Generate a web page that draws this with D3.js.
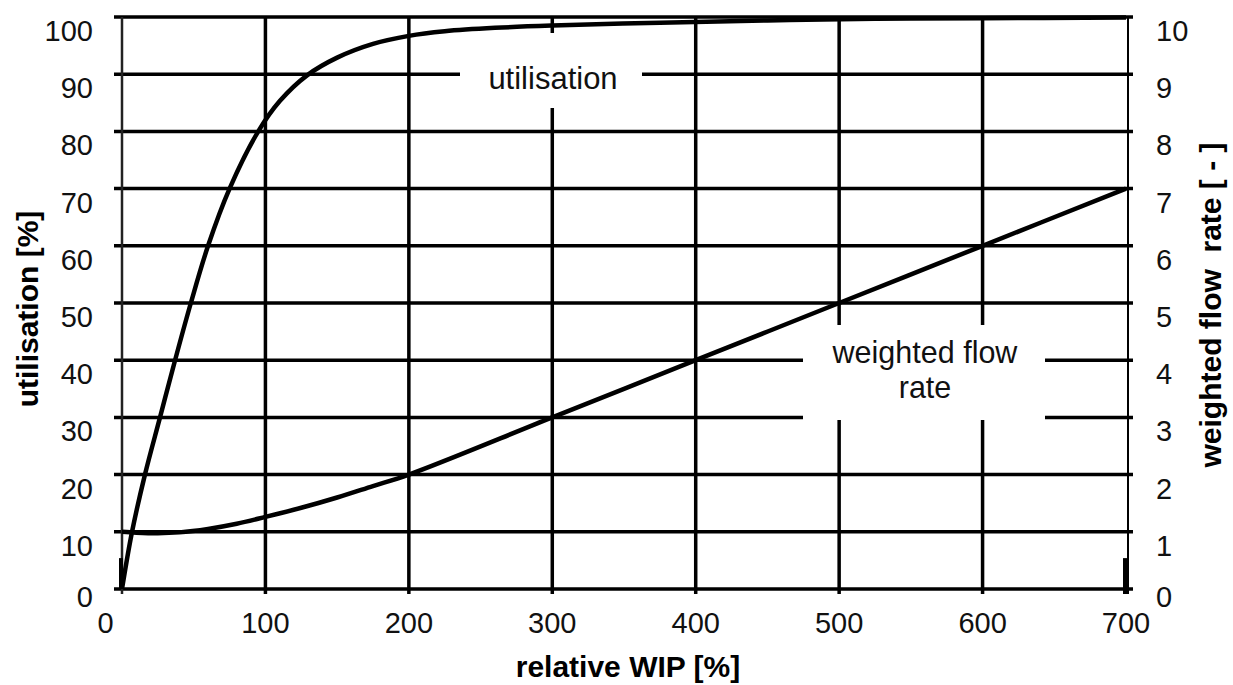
<!DOCTYPE html>
<html>
<head>
<meta charset="utf-8">
<script src="https://cdn.jsdelivr.net/npm/d3@7"></script>
<style>
  html, body { margin: 0; padding: 0; background: #fff; }
  svg { display: block; font-family: "Liberation Sans", Arial, sans-serif; }
</style>
</head>
<body>
<svg id="chart" width="1233" height="685"></svg>
<script>
// ---- data ----
const xTicks = [0, 100, 200, 300, 400, 500, 600, 700];
const yLeftTicks = [0, 10, 20, 30, 40, 50, 60, 70, 80, 90, 100];
const yRightTicks = [0, 1, 2, 3, 4, 5, 6, 7, 8, 9, 10];

// utilisation [%] vs relative WIP [%]
const utilWip = [0, 7, 16, 26.5, 37, 48, 60, 75, 95, 110, 129, 150, 175, 200, 225, 260, 300, 375, 450, 525, 600, 700];
const utilVal = [0, 10, 20, 30, 40, 50, 60, 70, 80, 85.3, 89.8, 92.9, 95.3, 96.7, 97.5, 98.1, 98.5, 99.0, 99.4, 99.7, 99.8, 99.9];

// weighted flow rate [-] vs relative WIP [%]
const flowWip = [0, 10, 25, 40, 60, 80, 100, 125, 150, 175, 200, 300, 400, 500, 600, 700];
const flowVal = [1.0, 0.985, 0.975, 0.99, 1.05, 1.14, 1.26, 1.42, 1.6, 1.8, 2.0, 3.0, 4.0, 5.0, 6.0, 7.0];

const endMarks = [0, 700];

const xTitle = "relative WIP [%]";
const yLeftTitle = "utilisation [%]";
const yRightTitle = "weighted flow  rate [ - ]";
const utilLabel = "utilisation";
const flowLabel = ["weighted flow", "rate"];

// ---- scales ----
const svg = d3.select("#chart");
const x = d3.scaleLinear().domain([0, 700]).range([122, 1126]);
const yL = d3.scaleLinear().domain([0, 100]).range([589, 17]);
const yR = d3.scaleLinear().domain([0, 10]).range([589, 17]);

// ---- grid ----
const grid = svg.append("g");
grid.selectAll("line.h").data(yLeftTicks).join("line")
  .attr("x1", 114).attr("x2", 1133)
  .attr("y1", d => yL(d)).attr("y2", d => yL(d))
  .attr("stroke", "#000").attr("stroke-width", 3.5);
grid.selectAll("line.v").data(xTicks.filter(d => d > 0 && d < 700)).join("line")
  .attr("x1", d => x(d)).attr("x2", d => x(d))
  .attr("y1", yL(100)).attr("y2", yL(0) + 5)
  .attr("stroke", "#000").attr("stroke-width", 3.5);
// left axis
grid.append("line").attr("x1", x(0)).attr("x2", x(0))
  .attr("y1", yL(100)).attr("y2", yL(0) + 5)
  .attr("stroke", "#222").attr("stroke-width", 2.5);
// right axis
grid.append("line").attr("x1", x(700) + 2).attr("x2", x(700) + 2)
  .attr("y1", yL(100)).attr("y2", yL(0) + 5)
  .attr("stroke", "#000").attr("stroke-width", 2);
// end marks
grid.selectAll("line.m").data(endMarks).join("line")
  .attr("x1", d => x(d) - 1).attr("x2", d => x(d) - 1)
  .attr("y1", yL(5.4)).attr("y2", d => yL(0) + (d > 0 ? 5 : 0))
  .attr("stroke", "#000").attr("stroke-width", 4);

// ---- label boxes ----
svg.append("rect").attr("x", 460).attr("y", 33).attr("width", 182).attr("height", 75).attr("fill", "#fff");
svg.append("rect").attr("x", 803).attr("y", 325).attr("width", 242).attr("height", 95).attr("fill", "#fff");

// ---- curves ----
const line = d3.line().curve(d3.curveCatmullRom.alpha(0.5));
svg.append("path")
  .attr("d", line(utilWip.map((w, i) => [x(w), yL(utilVal[i])])))
  .attr("fill", "none").attr("stroke", "#000").attr("stroke-width", 4.5);
svg.append("path")
  .attr("d", line(flowWip.map((w, i) => [x(w), yR(flowVal[i])])))
  .attr("fill", "none").attr("stroke", "#000").attr("stroke-width", 4.5);

// ---- tick labels ----
const tickFont = 29;
svg.append("g").selectAll("text").data(yLeftTicks).join("text")
  .attr("x", 93).attr("y", d => yL(d) + (d === 0 ? 18 : 24))
  .attr("text-anchor", "end").attr("font-size", tickFont).attr("fill", "#111")
  .text(d => d);
svg.append("g").selectAll("text").data(yRightTicks).join("text")
  .attr("x", 1156).attr("y", d => yR(d) + (d === 0 ? 18 : 24))
  .attr("text-anchor", "start").attr("font-size", tickFont).attr("fill", "#111")
  .text(d => d);
svg.append("g").selectAll("text").data(xTicks).join("text")
  .attr("x", d => x(d) - (d === 0 ? 16.5 : 0)).attr("y", 633)
  .attr("text-anchor", "middle").attr("font-size", tickFont).attr("fill", "#111")
  .text(d => d);

// ---- titles ----
svg.append("text").attr("x", 628).attr("y", 677)
  .attr("text-anchor", "middle").attr("font-size", 30).attr("font-weight", "bold")
  .text(xTitle);
svg.append("text").attr("transform", "translate(38,309) rotate(-90)")
  .attr("text-anchor", "middle").attr("font-size", 30).attr("font-weight", "bold")
  .text(yLeftTitle);
svg.append("text").attr("transform", "translate(1221,305) rotate(-90)")
  .attr("text-anchor", "middle").attr("font-size", 30).attr("font-weight", "bold")
  .attr("xml:space", "preserve").style("white-space", "pre")
  .text(yRightTitle);

// ---- in-plot labels ----
svg.append("text").attr("x", 553).attr("y", 89)
  .attr("text-anchor", "middle").attr("font-size", 31).attr("fill", "#111")
  .text(utilLabel);
svg.append("text").attr("x", 925).attr("y", 363)
  .attr("text-anchor", "middle").attr("font-size", 30.5).attr("fill", "#111")
  .selectAll("tspan").data(flowLabel).join("tspan")
  .attr("x", 925).attr("dy", (d, i) => i === 0 ? 0 : 35)
  .text(d => d);
</script>
</body>
</html>
